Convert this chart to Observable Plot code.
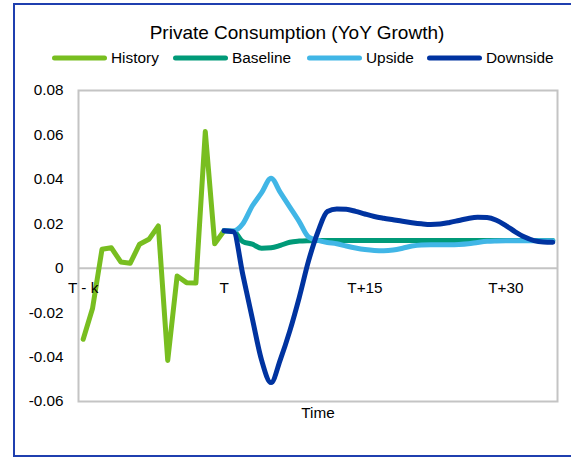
<!DOCTYPE html>
<html><head><meta charset="utf-8">
<script src="https://cdn.jsdelivr.net/npm/d3@7"></script>
<script src="https://cdn.jsdelivr.net/npm/@observablehq/plot@0.6"></script>
<style>
html,body{margin:0;padding:0;background:#fff;}
#wrap{position:relative;width:571px;height:458px;overflow:hidden;font-family:"Liberation Sans",Arial,sans-serif;color:#000;}
#frame{position:absolute;left:13px;top:3px;width:620px;height:454px;box-sizing:border-box;border:2px solid #1f3faf;pointer-events:none;z-index:2}
#title{position:absolute;left:0;width:594px;top:22px;text-align:center;font-size:19px;line-height:22px;}
.item{position:absolute;top:49px;display:flex;align-items:center;font-size:15.4px;line-height:18px;white-space:nowrap}
.item svg{margin-right:4px;display:block}
#chart{position:absolute;left:0;top:0}
</style></head><body>
<div id="wrap"><div id="chart"></div><div id="title"></div><div id="legend"></div><div id="frame"></div></div>
<script>
const titleText = "Private Consumption (YoY Growth)";
const xTitle = "Time";
const seriesNames = ["History", "Baseline", "Upside", "Downside"];
const seriesColors = ["#78be20", "#009a78", "#41b6e6", "#0033a0"];

// category positions of the x tick labels (index of period) and their labels
const xTickIdx = [0, 15, 30, 45];
const xTickLabels = ["T - k", "T", "T+15", "T+30"];
const yTicks = [-0.06, -0.04, -0.02, 0, 0.02, 0.04, 0.06, 0.08];

// History: periods 0..15
const historyStart = 0;
const historyValues = [-0.032, -0.018, 0.0085, 0.0092, 0.0028, 0.0022, 0.0108, 0.013, 0.019, -0.0415,
  -0.0035, -0.0065, -0.0067, 0.0615, 0.0110, 0.0169];

// Forecasts: periods 15..50
const forecastStart = 15;
const baselineValues = [0.0169, 0.0166, 0.0120, 0.0108, 0.0090, 0.0092, 0.0103, 0.0117, 0.0122, 0.0124,
  0.0125, 0.0125, 0.0125, 0.0125, 0.0125, 0.0125, 0.0125, 0.0125, 0.0125, 0.0125,
  0.0125, 0.0125, 0.0125, 0.0125, 0.0125, 0.0125, 0.0125, 0.0125, 0.0125, 0.0125,
  0.0125, 0.0125, 0.0125, 0.0125, 0.0125, 0.0125];
const upsideValues = [0.0169, 0.0168, 0.0200, 0.0280, 0.0340, 0.0405, 0.0340, 0.0275, 0.0210, 0.0140,
  0.0125, 0.0116, 0.0110, 0.0100, 0.0091, 0.0084, 0.0080, 0.0079, 0.0082, 0.0090,
  0.0100, 0.0105, 0.0106, 0.0106, 0.0106, 0.0107, 0.0110, 0.0116, 0.0121, 0.0123,
  0.0124, 0.0124, 0.0124, 0.0124, 0.0124, 0.0124];
const downsideValues = [0.0169, 0.0164, -0.003, -0.0225, -0.0415, -0.0515, -0.041, -0.0282, -0.0132, 0.0034,
  0.0165, 0.0255, 0.0266, 0.0265, 0.0256, 0.0244, 0.0233, 0.0225, 0.0218, 0.0211,
  0.0205, 0.0200, 0.0197, 0.0199, 0.0206, 0.0215, 0.0224, 0.0229, 0.0228, 0.0216,
  0.0192, 0.0164, 0.0140, 0.0124, 0.0118, 0.0117];

const toRows = (vals, start) => vals.map((v, j) => ({i: start + j, v}));
const rows = [
  toRows(historyValues, historyStart),
  toRows(baselineValues, forecastStart),
  toRows(upsideValues, forecastStart),
  toRows(downsideValues, forecastStart)
];
const curves = ["linear", "monotone-x", "monotone-x", "monotone-x"];

const chart = Plot.plot({
  width: 571, height: 458,
  marginLeft: 78, marginRight: 14, marginTop: 90, marginBottom: 57,
  x: {domain: [-0.5, 50.5], axis: null},
  y: {domain: [-0.06, 0.08]},
  style: {fontFamily: "'Liberation Sans', Arial, sans-serif", fontSize: "15.3px", background: "transparent", color: "#000", overflow: "visible"},
  marks: [
    Plot.frame({stroke: "#c4c4c4", strokeWidth: 2}),
    Plot.ruleY([0], {stroke: "#c4c4c4", strokeWidth: 2}),
    Plot.axisY({ticks: yTicks, tickSize: 0, tickPadding: 15, label: null,
      tickFormat: d => d === 0 ? "0" : d.toFixed(2)}),
    Plot.text([xTitle], {frameAnchor: "bottom", dy: 16, fill: "#000"}),
    ...rows.map((r, k) => Plot.line(r, {x: "i", y: "v", stroke: seriesColors[k], strokeWidth: 5,
      strokeLinejoin: "round", strokeLinecap: "round", curve: curves[k]})),
    Plot.text(xTickIdx, {x: d => d, y: () => 0, text: (d, k) => xTickLabels[k], dy: 20, fill: "#000"})
  ]
});
document.getElementById("chart").appendChild(chart);
document.getElementById("title").textContent = titleText;
const legend = document.getElementById("legend");
const legendLeft = [52, 173, 307, 427];
seriesNames.forEach((name, k) => {
  const item = document.createElement("div");
  item.className = "item";
  item.style.left = legendLeft[k] + "px";
  item.innerHTML = `<svg width="55" height="18"><line x1="2.5" y1="9" x2="52.5" y2="9" stroke="${seriesColors[k]}" stroke-width="5" stroke-linecap="round"/></svg><span></span>`;
  item.querySelector("span").textContent = name;
  legend.appendChild(item);
});
</script></body></html>
